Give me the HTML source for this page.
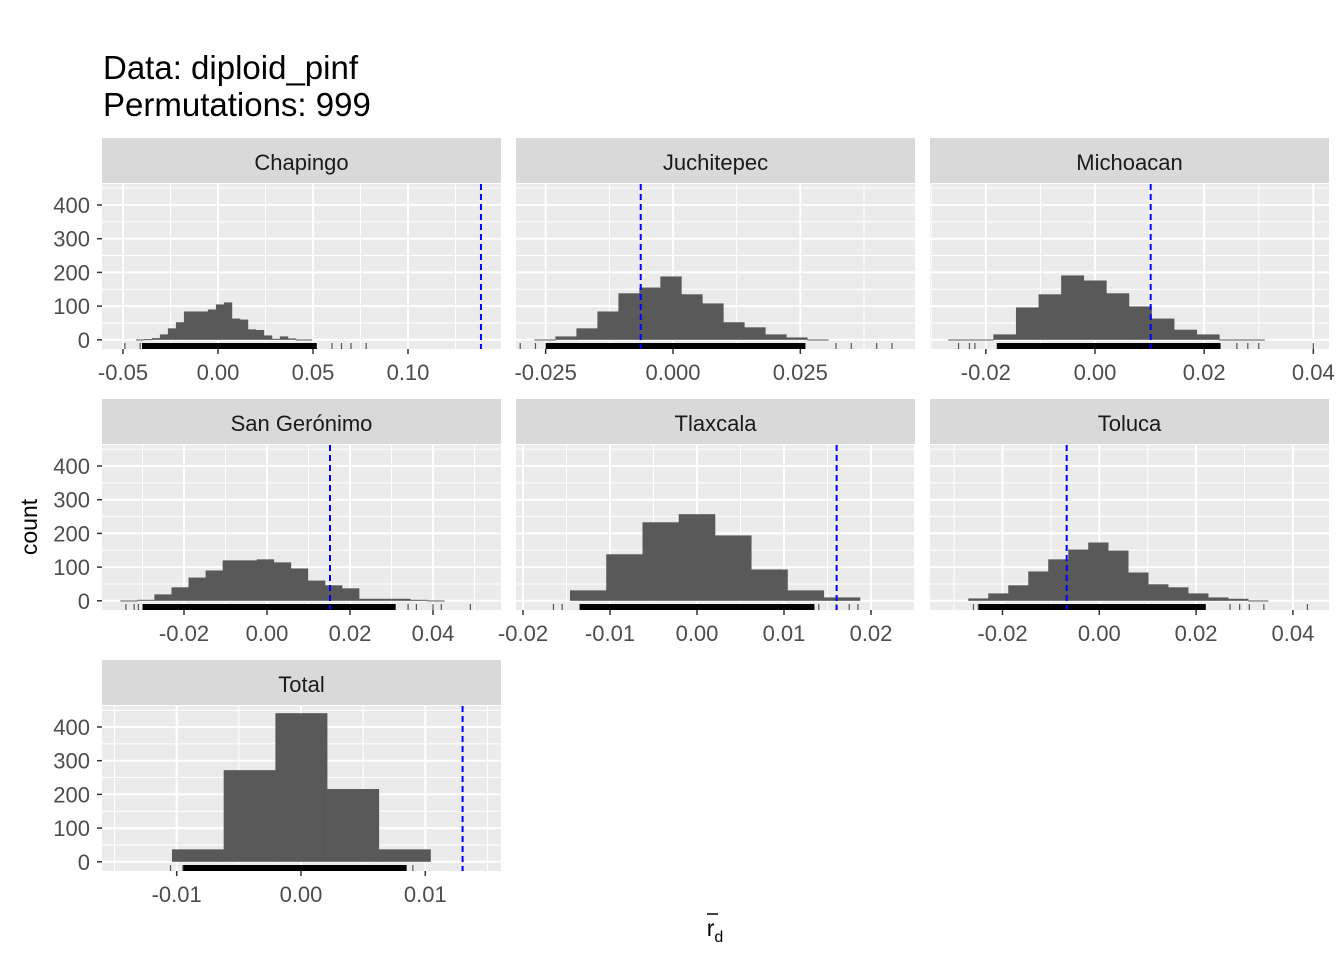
<!DOCTYPE html>
<html><head><meta charset="utf-8"><style>
body{margin:0;background:#fff;font-family:"Liberation Sans",Arial,sans-serif}
</style></head><body>
<svg id="c" width="1344" height="960" xmlns="http://www.w3.org/2000/svg">
<text x="103" y="79" font-size="33" fill="#000">Data: diploid_pinf</text>
<text x="103" y="116" font-size="33" fill="#000">Permutations: 999</text>
<text transform="translate(37,527) rotate(-90)" text-anchor="middle" font-size="23" fill="#000">count</text>
<text x="715" y="936" text-anchor="middle" font-size="23" fill="#000">r<tspan dy="6" font-size="16">d</tspan></text>
<line x1="707" y1="914" x2="718" y2="914" stroke="#000" stroke-width="1.5"/>
</svg>
<script>
const names=["Chapingo","Juchitepec","Michoacan","San Gerónimo","Tlaxcala","Toluca","Total"];
const binStart=[-0.0432,-0.0272,-0.0269,-0.03535,-0.0146,-0.02707,-0.01038];
const binWidth=[0.00421,0.00412,0.00414,0.00411,0.004167,0.00413,0.00416];
const counts0=[1,2,5,16,34,52,84,84,84,90,105,111,63,60,31,29,13,3,10,4,1,1];
const counts1=[1,10,34,84,138,155,188,135,108,52,37,16,7,1];
const counts2=[1,1,16,96,135,191,176,138,99,63,30,16,1,1];
const counts3=[1,3,19,40,69,90,120,120,123,114,96,60,46,37,6,6,6,3,1];
const counts4=[31,138,233,257,194,93,31,10];
const counts5=[7,22,46,87,123,152,173,149,84,49,40,22,10,6,1];
const counts6=[37,272,441,216,37];
const counts=[counts0,counts1,counts2,counts3,counts4,counts5,counts6];
const observed=[0.1384,-0.00634,0.0102,0.01518,0.01605,-0.00674,0.0130];
const ticks0=[-0.05,0,0.05,0.1],ticks1=[-0.025,0,0.025],ticks2=[-0.02,0,0.02,0.04],ticks3=[-0.02,0,0.02,0.04],ticks4=[-0.02,-0.01,0,0.01,0.02],ticks5=[-0.02,0,0.02,0.04],ticks6=[-0.01,0,0.01];
const tickLabels=[["-0.05","0.00","0.05","0.10"],["-0.025","0.000","0.025"],["-0.02","0.00","0.02","0.04"],["-0.02","0.00","0.02","0.04"],["-0.02","-0.01","0.00","0.01","0.02"],["-0.02","0.00","0.02","0.04"],["-0.01","0.00","0.01"]];
const ticks=[ticks0,ticks1,ticks2,ticks3,ticks4,ticks5,ticks6];
const rugDense=[[-0.040,0.052],[-0.025,0.026],[-0.018,0.023],[-0.030,0.031],[-0.0135,0.0135],[-0.025,0.022],[-0.0095,0.0085]];
const rugSparse=[[-0.049,-0.041,0.06,0.065,0.07,0.078],[-0.030,-0.027,0.032,0.035,0.040,0.043],[-0.025,-0.023,-0.022,0.026,0.028,0.030,0.040],[-0.034,-0.032,-0.031,0.034,0.036,0.040,0.042,0.049],[-0.0165,-0.0155,0.014,0.016,0.0175,0.0185],[-0.026,-0.025,0.027,0.029,0.031,0.034,0.043],[-0.0105,-0.0095,0.0090]];
const yTicks=[0,100,200,300,400];
const colX=[102,516,930],rowY=[184,445,706],PW=399,PH=165;
const x0px=[218,673,1095,267,697,1099.3,301];
const pxPer=[1900,5093,5458,4150,8700,4840,12430];
const zeroOff=155.8,perCount=0.337;
const svg=document.getElementById('c');const NS="http://www.w3.org/2000/svg";
function mk(t,a,p){const e=document.createElementNS(NS,t);for(const k in a)e.setAttribute(k,a[k]);(p||svg).appendChild(e);return e;}
names.forEach((nm,i)=>{
 const L=colX[i%3],T=rowY[Math.floor(i/3)];
 const g=mk('g',{});
 
 
 const xs=v=>x0px[i]+v*pxPer[i];
 const y0=T+zeroOff;const ys=c=>y0-c*perCount;
 const strip=mk('rect',{x:L,y:T-46,width:PW,height:45,fill:'#d9d9d9'},g);
 
 const st=mk('text',{x:L+PW/2,y:T-14,'text-anchor':'middle','font-size':22,fill:'#1a1a1a'},g);st.textContent=nm;
 
 const bg=mk('rect',{x:L,y:T,width:PW,height:PH,fill:'#ebebeb'},g);
 
 const clip=mk('g',{},g);
 yTicks.forEach((v,k)=>{
  mk('line',{x1:L,x2:L+PW,y1:ys(v),y2:ys(v),stroke:'#fff','stroke-width':2},clip);
  if(k<yTicks.length-1)mk('line',{x1:L,x2:L+PW,y1:ys(v+50),y2:ys(v+50),stroke:'#fff','stroke-width':1},clip);
  if(i%3===0){
   mk('line',{x1:L-5,x2:L,y1:ys(v),y2:ys(v),stroke:'#333','stroke-width':1.5},g);
   const t=mk('text',{x:L-12,y:ys(v)+8,'text-anchor':'end','font-size':22,fill:'#4d4d4d'},g);t.textContent=v;
   }
 });
 ys(450)>T&&mk('line',{x1:L,x2:L+PW,y1:ys(450),y2:ys(450),stroke:'#fff','stroke-width':1},clip);
 const tk=ticks[i];const step=tk[1]-tk[0];
 for(let v=tk[0]-step*2;v<=tk[tk.length-1]+step*2+1e-9;v+=step/2){const px=xs(v);if(px>L&&px<L+PW){const major=tk.some(t=>Math.abs(t-v)<1e-9);mk('line',{x1:px,x2:px,y1:T,y2:T+PH,stroke:'#fff','stroke-width':major?2:1},clip);}}
 tk.forEach((v,k)=>{const px=xs(v);mk('line',{x1:px,x2:px,y1:T+PH,y2:T+PH+5,stroke:'#333','stroke-width':1.5},g);
  const t=mk('text',{x:px,y:T+PH+31,'text-anchor':'middle','font-size':22,fill:'#4d4d4d'},g);t.textContent=tickLabels[i][k];
  });
 counts[i].forEach((c,k)=>{const a=xs(binStart[i]+k*binWidth[i]),b=xs(binStart[i]+(k+1)*binWidth[i]);
  const r=mk('rect',{x:a,y:ys(c),width:b-a+0.3,height:Math.max(c*perCount,1),fill:'#595959'},g);
  });
 const rd=rugDense[i];const rr=mk('rect',{x:xs(rd[0]),y:T+PH-6,width:xs(rd[1])-xs(rd[0]),height:6,fill:'#000'},g);
 
 rugSparse[i].forEach(v=>{const l=mk('line',{x1:xs(v),x2:xs(v),y1:T+PH-6,y2:T+PH,stroke:'#555','stroke-width':1.2},g);
  });
 const ob=mk('line',{x1:xs(observed[i]),x2:xs(observed[i]),y1:T,y2:T+PH,stroke:'#0000ff','stroke-width':2,'stroke-dasharray':'6,4'},g);
 
});
</script>
</body></html>
